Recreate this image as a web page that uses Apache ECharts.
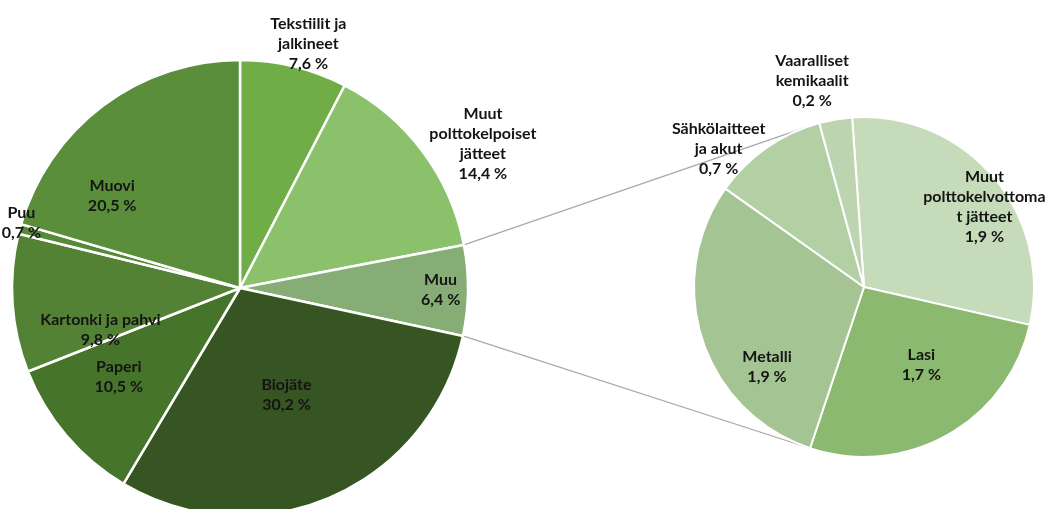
<!DOCTYPE html>
<html>
<head>
<meta charset="utf-8">
<script src="https://cdn.jsdelivr.net/npm/echarts@6/dist/echarts.min.js"></script>
<style>
  html, body { margin: 0; padding: 0; background: #ffffff; }
  #chart { width: 1051px; height: 509px; }
</style>
</head>
<body>
<div id="chart"></div>
<script>
// Composition of mixed waste, share of total (%)
const mainNames = ['Tekstiilit ja\njalkineet', 'Muut\npolttokelpoiset\njätteet', 'Muu', 'Biojäte',
                   'Paperi', 'Kartonki ja pahvi', 'Puu', 'Muovi'];
const mainValues = [7.6, 14.4, 6.4, 30.2, 10.5, 9.8, 0.7, 20.5];
const mainColors = ['#70ad47', '#8cc16b', '#86ad75', '#375523', '#47742b', '#538234', '#578a37', '#5a8e3a'];

// Breakdown of the "Muu" slice
const subNames = ['Muut\npolttokelvottoma\nt jätteet', 'Lasi', 'Metalli', 'Sähkölaitteet\nja akut', 'Vaaralliset\nkemikaalit'];
const subValues = [1.9, 1.7, 1.9, 0.7, 0.2];
const subColors = ['#c6dbba', '#8ab96f', '#a4c493', '#b3cfa4', '#bcd5b0'];

const splitIndex = mainNames.indexOf('Muu');

// Pie geometry (px); angles are measured clockwise from 12 o'clock
const MAIN = { cx: 240, cy: 288, r: 228, start: 0 };
const SUB = { cx: 864, cy: 287, r: 170, start: -4 };

// Label placement: [fraction of radius, angular shift in degrees] per slice
const mainLabelPlace = [[1.11, 2], [1.24, 6], [0.88, 0], [0.51, 0], [0.66, 4], [0.64, -13], [1.0, 1.5], [0.69, -17.5]];
const subLabelPlace = [[0.85, 7], [0.57, -7], [0.74, -21.5], [1.18, -11.5], [1.25, -4.5]];

const rad = d => d * Math.PI / 180;
const sum = arr => arr.reduce((a, b) => a + b, 0);

function edgeAngles(values, start) {
  const total = sum(values);
  const out = [];
  let acc = 0;
  values.forEach(v => {
    const a0 = start + acc / total * 360;
    acc += v;
    out.push([a0, start + acc / total * 360]);
  });
  return out;
}
function polar(g, angle, dist) {
  return [g.cx + dist * Math.sin(rad(angle)), g.cy - dist * Math.cos(rad(angle))];
}
function labelPoint(g, values, places, i) {
  const [a0, a1] = edgeAngles(values, g.start)[i];
  const [f, dA] = places[i];
  return polar(g, (a0 + a1) / 2 + dA, f * g.r);
}

// Connector lines: from the edges of the split slice, tangent to the secondary pie
function tangentEnd(p, g, upper) {
  const dx = g.cx - p[0], dy = g.cy - p[1];
  const d = Math.hypot(dx, dy);
  const phi = Math.atan2(dy, dx);
  const alpha = Math.asin(g.r / d);
  const len = Math.sqrt(d * d - g.r * g.r);
  const t = upper ? phi - alpha : phi + alpha;
  return [p[0] + len * Math.cos(t), p[1] + len * Math.sin(t)];
}
const splitEdges = edgeAngles(mainValues, MAIN.start)[splitIndex];
const pUp = polar(MAIN, splitEdges[0], MAIN.r);
const pDown = polar(MAIN, splitEdges[1], MAIN.r);
const eUp = tangentEnd(pUp, SUB, true);
const eDown = tangentEnd(pDown, SUB, false);

const fmt = v => v.toFixed(1).replace('.', ',') + ' %';

const labelStyle = {
  show: true,
  position: 'inside',
  formatter: p => p.name + '\n' + fmt(p.value),
  fontFamily: 'Lato, "Open Sans", sans-serif',
  fontWeight: 'bold',
  fontSize: 16,
  lineHeight: 20,
  color: '#141414',
  align: 'center'
};

const chart = echarts.init(document.getElementById('chart'), null, { renderer: 'canvas' });
chart.setOption({
  backgroundColor: '#ffffff',
  animation: false,
  graphic: [
    { type: 'line', z: 0, shape: { x1: pUp[0], y1: pUp[1], x2: eUp[0], y2: eUp[1] },
      style: { stroke: '#a9a9a9', lineWidth: 1.3 } },
    { type: 'line', z: 0, shape: { x1: pDown[0], y1: pDown[1], x2: eDown[0], y2: eDown[1] },
      style: { stroke: '#a9a9a9', lineWidth: 1.3 } }
  ],
  series: [
    {
      type: 'pie',
      center: [MAIN.cx, MAIN.cy],
      radius: MAIN.r,
      startAngle: 90 - MAIN.start,
      clockwise: true,
      avoidLabelOverlap: false,
      itemStyle: { borderColor: '#ffffff', borderWidth: 2.5 },
      label: labelStyle,
      labelLine: { show: false },
      labelLayout: p => {
        const [x, y] = labelPoint(MAIN, mainValues, mainLabelPlace, p.dataIndex);
        return { x, y, align: 'center', verticalAlign: 'middle' };
      },
      emphasis: { disabled: true },
      data: mainNames.map((n, i) => ({ name: n, value: mainValues[i], itemStyle: { color: mainColors[i] } }))
    },
    {
      type: 'pie',
      center: [SUB.cx, SUB.cy],
      radius: SUB.r,
      startAngle: 90 - SUB.start,
      clockwise: true,
      avoidLabelOverlap: false,
      itemStyle: { borderColor: '#ffffff', borderWidth: 2 },
      label: labelStyle,
      labelLine: { show: false },
      labelLayout: p => {
        const [x, y] = labelPoint(SUB, subValues, subLabelPlace, p.dataIndex);
        return { x, y, align: 'center', verticalAlign: 'middle' };
      },
      emphasis: { disabled: true },
      data: subNames.map((n, i) => ({ name: n, value: subValues[i], itemStyle: { color: subColors[i] } }))
    }
  ]
});
</script>
</body>
</html>
